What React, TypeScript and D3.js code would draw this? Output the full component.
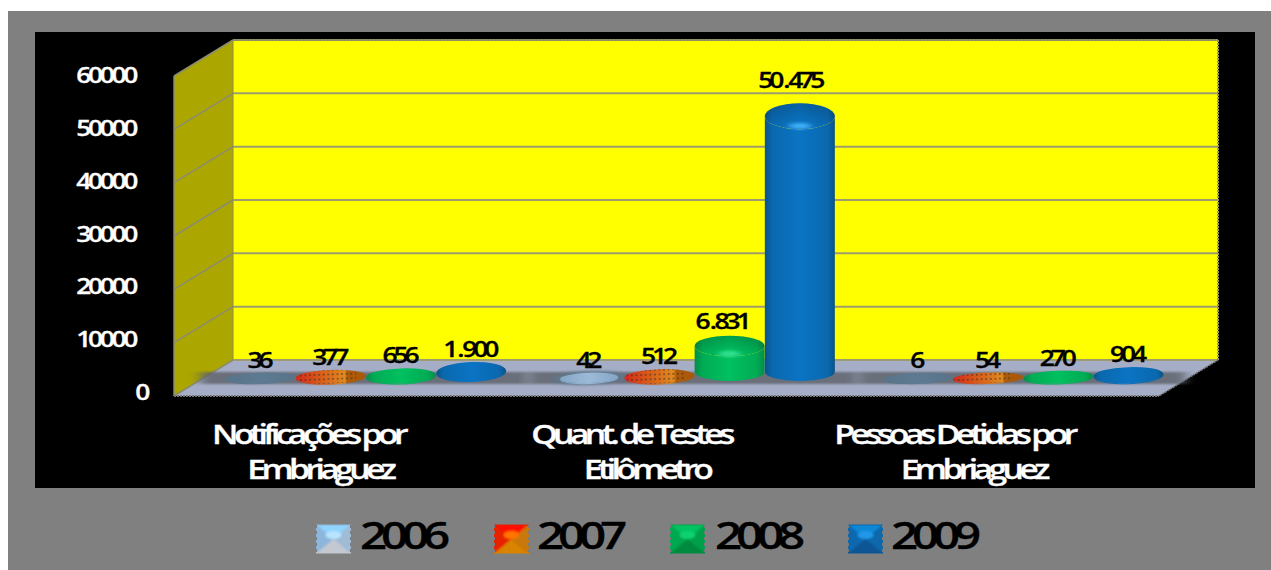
import React from "react";
import * as d3 from "d3";

const categoryLines = [
  ["Notificações por", "Embriaguez"],
  ["Quant. de Testes", "Etilômetro"],
  ["Pessoas Detidas por", "Embriaguez"],
];
const categories = categoryLines.map((d) => d.join(" "));
const years = ["2006", "2007", "2008", "2009"];
const values2006 = [36, 42, 6];
const values2007 = [377, 512, 54];
const values2008 = [656, 6831, 270];
const values2009 = [1900, 50475, 904];
const series = [values2006, values2007, values2008, values2009];
const yTicks = [0, 10000, 20000, 30000, 40000, 50000, 60000];

const font = "'Open Sans', sans-serif";
const RX = 35;

const y = d3.scaleLinear().domain([0, 60000]).range([360, 40]);
const yLabel = d3.scaleLinear().domain([0, 60000]).range([400, 83]);
// the picture's 3D projection is not linear near the floor
const yBar = d3.scaleLinear().domain([0, 1900, 60000]).range([378, 372, 66]);
const ryScale = d3.scaleLinear().domain([0, 400, 900, 1900, 50000]).range([5, 7, 8, 10, 13]).clamp(true);
const labelShift = d3.scaleLinear().domain([1900, 6831, 50475]).range([0, 6, 8]).clamp(true);
const x0 = d3.scaleBand<string>().domain(categories).range([201.5, 1187.5]);
const x1 = d3.scaleBand<string>().domain(years).range([0, x0.bandwidth()]).paddingOuter(0.34);
const xLine1 = d3.scaleBand<string>().domain(categories).range([146.5, 1115.5]);
const xLine2 = d3.scaleBand<string>().domain(categories).range([156.5, 1136.5]);
const fmt = d3.formatLocale({ decimal: ",", thousands: ".", grouping: [3], currency: ["", ""] }).format(",d");

const depthX = -59;
const depthY = 36;
const wallL = 233;
const wallR = 1218;
const floorPts = [[wallL, 360], [wallR, 360], [wallR + depthX, 360 + depthY], [wallL + depthX, 360 + depthY]];
const sidePts = [[wallL, y(60000)], [wallL, y(0)], [wallL + depthX, y(0) + depthY], [wallL + depthX, y(60000) + depthY]];
const pts = (p: number[][]) => p.map((d) => d.join(",")).join(" ");

const fills = ["url(#c0)", "url(#c1)", "url(#c2)", "url(#c3)"];
const highlights = ["#b8d8f0", "#ffb060", "#30e090", "#40b0f8"];

const swatchColors = [
  ["#8fd4ff", "#8db6dc", "#9fbbd6", "#c4c8d0", "#b8e4ff"],
  ["#ff1000", "#e62000", "#c87808", "#d88400", "#ff7400"],
  ["#00c45e", "#00a850", "#00a04c", "#008a40", "#10d070"],
  ["#1088d8", "#0868b0", "#0868ac", "#0a5494", "#2098e8"],
];
const swatchX = [316, 494, 670, 848];
const legendTextX = [360, 537, 715, 891];

function Swatch({ x, y: sy, colors, id }: { x: number; y: number; colors: string[]; id: string }) {
  const w = 35, h = 28;
  const c = [x + w / 2, sy + h / 2];
  return (
    <g>
      <clipPath id={id}>
        <rect x={x} y={sy} width={w} height={h} />
      </clipPath>
      <g clipPath={`url(#${id})`}>
        <g filter="url(#soft)">
          <rect x={x} y={sy} width={w} height={h} fill={colors[1]} />
          <polygon points={pts([[x - 4, sy - 4], [x + w + 4, sy - 4], c])} fill={colors[0]} />
          <polygon points={pts([[x - 4, sy - 4], [x - 4, sy + h + 4], c])} fill={colors[1]} />
          <polygon points={pts([[x + w + 4, sy - 4], [x + w + 4, sy + h + 4], c])} fill={colors[2]} />
          <polygon points={pts([[x - 4, sy + h + 4], [x + w + 4, sy + h + 4], c])} fill={colors[3]} />
          <ellipse cx={c[0]} cy={c[1] - 4} rx={8} ry={4} fill={colors[4]} />
        </g>
      </g>
      <line x1={x} x2={x + w} y1={sy} y2={sy} stroke={colors[1]} />
      <line x1={x} x2={x + w} y1={sy + h} y2={sy + h} stroke={colors[3]} />
      <line x1={x + 0.5} x2={x + 0.5} y1={sy} y2={sy + h} stroke="#7a7a7a" strokeDasharray="3 3" />
      <line x1={x + w - 0.5} x2={x + w - 0.5} y1={sy} y2={sy + h} stroke="#7a7a7a" strokeDasharray="3 3" />
    </g>
  );
}

function Grad({ id, stops }: { id: string; stops: [number, string][] }) {
  return (
    <linearGradient id={id} x1="0" x2="1" y1="0" y2="0">
      {stops.map((s, i) => (
        <stop key={i} offset={s[0]} stopColor={s[1]} />
      ))}
    </linearGradient>
  );
}

function Stretch({ x, y: ty, size, sx, ls, fill, anchor, children }: any) {
  return (
    <text
      transform={`translate(${x},${ty}) scale(${sx},1)`}
      textAnchor={anchor}
      fontFamily={font}
      fontWeight={600}
      fontSize={size}
      letterSpacing={ls}
      fill={fill}
      stroke={fill}
      strokeWidth={0.3}
    >
      {children}
    </text>
  );
}

export default function App() {
  const centerOf = (c: string, yr: string) => (x0(c) as number) + x1(yr)! + x1.bandwidth() / 2;
  return (
    <svg width={1271} height={570} style={{ position: "absolute", left: 0, top: 0, background: "#fff" }}>
      <defs>
        <Grad id="c0" stops={[[0, "#587489"], [0.5, "#5c7a92"], [1, "#587489"]]} />
        <Grad id="pale" stops={[[0, "#86a6c6"], [0.5, "#9cbad8"], [1, "#86a6c6"]]} />
        <Grad id="c1" stops={[[0, "#d82818"], [0.35, "#d85c18"], [0.7, "#e08a20"], [0.74, "#b05a08"], [1, "#a85808"]]} />
        <Grad id="c2" stops={[[0, "#048c4a"], [0.12, "#00ac54"], [0.5, "#00c060"], [0.88, "#00ac54"], [1, "#048c4a"]]} />
        <Grad id="c3" stops={[[0, "#0a5288"], [0.1, "#0a68ae"], [0.5, "#0a74c4"], [0.9, "#0a68ae"], [1, "#0a5288"]]} />
        <linearGradient id="rim" x1="0" x2="0" y1="0" y2="1">
          <stop offset="0" stopColor="#000" stopOpacity="0.18" />
          <stop offset="0.8" stopColor="#000" stopOpacity="0" />
        </linearGradient>
        <pattern id="dots" width="4.6" height="4.6" patternUnits="userSpaceOnUse">
          <rect x="1" y="1" width="1.5" height="1.5" fill="#2a2a2a" opacity="0.75" />
        </pattern>
        <filter id="blur" x="-10%" y="-100%" width="120%" height="300%">
          <feGaussianBlur stdDeviation="6 1" />
        </filter>
        <filter id="glow" x="-50%" y="-100%" width="200%" height="300%">
          <feGaussianBlur stdDeviation="3 1.5" />
        </filter>
        <filter id="soft" x="-20%" y="-20%" width="140%" height="140%">
          <feGaussianBlur stdDeviation="1" />
        </filter>
      </defs>

      <rect x={8} y={11} width={1263} height={559} fill="#808080" />
      <rect x={35} y={32} width={1220} height={456} fill="#000" />

      {/* walls and floor */}
      <rect x={wallL} y={y(60000)} width={wallR - wallL} height={y(0) - y(60000)} fill="#ffff00" />
      <polygon points={pts(sidePts)} fill="#aca600" />
      <polygon points={pts(floorPts)} fill="#a5aec6" />
      {yTicks.map((t) => (
        <g key={t} fill="none">
          <line x1={wallL} x2={wallR} y1={y(t)} y2={y(t)} stroke="#9c9c70" strokeWidth={2} />
          <line x1={wallL} x2={wallL + depthX} y1={y(t)} y2={y(t) + depthY} stroke="#8c8c70" strokeWidth={1.5} />
        </g>
      ))}
      <line x1={wallL} x2={wallR} y1={y(60000)} y2={y(60000)} stroke="#8a8a60" strokeWidth={2} strokeDasharray="2 1" />
      <line x1={wallR} x2={wallR} y1={y(60000)} y2={y(0)} stroke="#9a9a50" strokeWidth={2} strokeDasharray="2 1" />
      <line x1={wallL} x2={wallL} y1={y(60000)} y2={y(0)} stroke="#8c8c50" />
      <line x1={wallL + depthX} x2={wallL + depthX} y1={y(60000) + depthY} y2={y(0) + depthY} stroke="#8a8a70" strokeWidth={1.5} />
      <line x1={wallL + depthX} x2={wallR + depthX} y1={y(0) + depthY} y2={y(0) + depthY} stroke="#777" strokeWidth={2} strokeDasharray="2 1" />
      <line x1={wallR} x2={wallR + depthX} y1={y(0)} y2={y(0) + depthY} stroke="#777" strokeWidth={1.5} strokeDasharray="2 1" />

      {/* floor shadows */}
      {categories.map((c) => {
        const a = centerOf(c, years[0]) - RX - 25;
        const b = centerOf(c, years[3]) + RX + 22;
        return <rect key={c} x={a} y={372} width={b - a} height={12} fill="#5c6068" opacity={0.8} filter="url(#blur)" />;
      })}

      {/* cylinders */}
      {categories.map((c, ci) =>
        years.map((yr, si) => {
          const v = series[si][ci];
          const cx = centerOf(c, yr);
          const top = yBar(v);
          const base = Math.max(top + 1, 372);
          const ry = ryScale(v);
          const pale = si === 0 && v >= 40;
          const rx = pale ? RX - 6 : RX;
          const fill = pale ? "url(#pale)" : fills[si];
          const baseRy = Math.min(ry, 9);
          const side = `M${cx - rx},${top}L${cx - rx},${base}A${rx},${baseRy} 0 0 0 ${cx + rx},${base}L${cx + rx},${top}A${rx},${ry} 0 0 1 ${cx - rx},${top}Z`;
          const tall = v > 3000;
          return (
            <g key={yr + c} transform={tall ? undefined : `rotate(-2 ${cx} ${top})`}>
              {pale && <ellipse cx={cx} cy={top} rx={rx + 7} ry={ry + 2} fill="#5c7a92" opacity={0.7} filter="url(#glow)" />}
              <path d={side} fill={fill} />
              <ellipse cx={cx} cy={top} rx={rx} ry={ry} fill={fill} />
              {si === 1 && (
                <clipPath id={`dc${ci}`}>
                  <rect x={cx - rx} y={top - ry} width={rx * 1.72} height={ry * 2} />
                </clipPath>
              )}
              {si === 1 && <ellipse cx={cx} cy={top} rx={rx} ry={ry} fill="url(#dots)" clipPath={`url(#dc${ci})`} />}
              {tall && <ellipse cx={cx} cy={top} rx={rx} ry={ry} fill="url(#rim)" />}
              {tall && <ellipse cx={cx} cy={top + ry * 0.75} rx={11} ry={3} fill={highlights[si]} filter="url(#glow)" />}
            </g>
          );
        })
      )}

      {/* value labels */}
      {categories.map((c, ci) =>
        years.map((yr, si) => {
          const v = series[si][ci];
          const gap = ryScale(v) + 5 + v * 0.0002;
          const parts = fmt(v).split(".");
          return (
            <Stretch key={yr + c} x={centerOf(c, yr) - labelShift(v) - 2} y={yBar(v) - gap} size={22} sx={1.2} ls={-3.4} fill="#000" anchor="middle">
              {parts.length > 1 ? (
                <>
                  {parts[0]}
                  <tspan dx={2.5}>.</tspan>
                  <tspan dx={1.5}>{parts[1]}</tspan>
                </>
              ) : (
                parts[0]
              )}
            </Stretch>
          );
        })
      )}

      {/* y axis */}
      {yTicks.map((t) => (
        <Stretch key={t} x={t === 0 ? 147 : 135} y={yLabel(t)} size={22} sx={1.2} ls={-2.8} fill="#fff" anchor="end">
          {t}
        </Stretch>
      ))}

      {/* category labels */}
      {categories.map((c, i) => (
        <g key={c}>
          <Stretch x={xLine1(c)! + xLine1.bandwidth() / 2} y={444} size={27} sx={1.25} ls={-3.7} fill="#fff" anchor="middle">
            {categoryLines[i][0]}
          </Stretch>
          <Stretch x={xLine2(c)! + xLine2.bandwidth() / 2} y={479} size={27} sx={1.25} ls={-3.7} fill="#fff" anchor="middle">
            {categoryLines[i][1]}
          </Stretch>
        </g>
      ))}

      {/* legend */}
      {years.map((yr, i) => (
        <g key={yr}>
          <Swatch id={`sw${i}`} x={swatchX[i]} y={525} colors={swatchColors[i]} />
          <Stretch x={legendTextX[i]} y={549} size={38} sx={1.25} ls={-4.9} fill="#000" anchor="start">
            {yr}
          </Stretch>
        </g>
      ))}
    </svg>
  );
}
